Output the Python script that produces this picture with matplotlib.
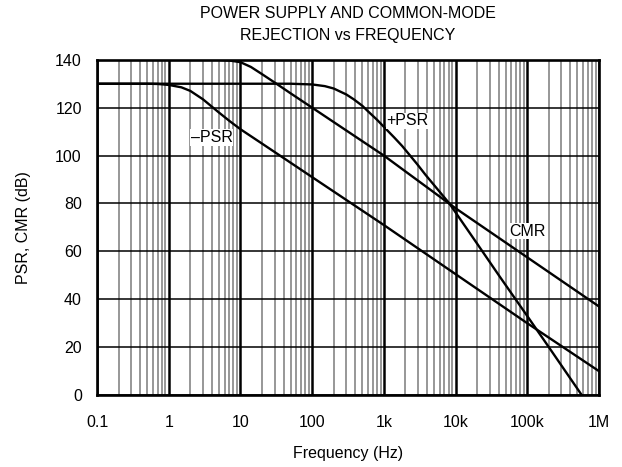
import numpy as np
import matplotlib
matplotlib.use("Agg")
import matplotlib.pyplot as plt
from matplotlib.ticker import FixedLocator, NullFormatter

plt.rcParams['font.family'] = ['Liberation Sans', 'DejaVu Sans']

# values
cmr_f = [0.1, 1, 5, 7, 10, 14, 20, 30, 50, 100, 1e3, 1e4, 1e5, 1e6]
cmr_db = [140, 140, 140, 139.7, 139, 137, 134, 130.5, 126, 120, 100, 78, 57.5, 37]

ppsr_f = [0.1, 10, 50, 100, 150, 200, 300, 380, 500, 600, 800, 1e3, 1.4e3, 1.8e3,
          2.9e3, 3.8e3, 8.2e3, 2e4, 4.1e4, 1e5, 2e5, 5.75e5]
ppsr_db = [130, 130, 130, 129.7, 129, 128, 125.5, 123.5, 120.8, 118.5, 115, 112, 107.5,
           104, 96.5, 92, 80, 63.2, 49.6, 33, 20, 0]

npsr_f = [0.1, 0.5, 0.7, 1, 1.5, 2, 3, 5, 7, 10, 20, 100, 1e3, 1e4, 1e5, 1e6]
npsr_db = [130, 130, 129.9, 129.5, 128.5, 127, 123.5, 118, 114.5, 111, 105, 91, 71, 50.5, 30, 10]

xticks = [0.1, 1, 10, 100, 1e3, 1e4, 1e5, 1e6]
xlabels = ["0.1", "1", "10", "100", "1k", "10k", "100k", "1M"]
yticks = [0, 20, 40, 60, 80, 100, 120, 140]

fig = plt.figure(figsize=(6.22, 4.67), dpi=100)
ax = fig.add_axes([0.156, 0.154, 0.807, 0.718])

# grid: gray minor, black decades
minors = [m * 10.0**e for e in range(-1, 6) for m in range(2, 10)]
for x in minors:
    ax.axvline(x, color="#7a7a7a", lw=1.1, zorder=1)
for x in xticks:
    ax.axvline(x, color="black", lw=1.8, zorder=1)
for y in yticks:
    ax.axhline(y, color="black", lw=1.1, zorder=1)

ax.plot(cmr_f, cmr_db, color="black", lw=1.7, zorder=3)
ax.plot(ppsr_f, ppsr_db, color="black", lw=1.7, zorder=3)
ax.plot(npsr_f, npsr_db, color="black", lw=1.7, zorder=3)

box = dict(facecolor="white", edgecolor="none", pad=0.5)
ax.text(4, 107.5, "\u2013PSR", ha="center", va="center", fontsize=11.5, bbox=box, zorder=4)
ax.text(2.15e3, 114.5, "+PSR", ha="center", va="center", fontsize=11.5, bbox=box, zorder=4)
ax.text(1e5, 68.5, "CMR", ha="center", va="center", fontsize=11.5, bbox=box, zorder=4)

ax.set_xscale("log")
ax.set_xlim(0.1, 1e6)
ax.set_ylim(0, 140)
ax.xaxis.set_major_locator(FixedLocator(xticks))
ax.xaxis.set_minor_locator(FixedLocator(minors))
ax.xaxis.set_minor_formatter(NullFormatter())
ax.set_xticks(xticks)
ax.set_xticklabels(xlabels)
ax.set_yticks(yticks)
ax.tick_params(axis="both", which="both", length=0, labelsize=11.5)
ax.tick_params(axis="x", pad=14.5)
ax.tick_params(axis="y", pad=11)
for s in ax.spines.values():
    s.set_linewidth(1.9)
    s.set_zorder(5)

ax.set_xlabel("Frequency (Hz)", fontsize=11.5)
ax.set_ylabel("PSR, CMR (dB)", fontsize=11.5)
ax.xaxis.set_label_coords(0.5, -0.153)
ax.yaxis.set_label_coords(-0.131, 0.5)
ax.text(0.5, 1.0 + 46 / 334, "POWER SUPPLY AND COMMON-MODE", transform=ax.transAxes,
        ha="center", va="center", fontsize=11.5)
ax.text(0.5, 1.0 + 24 / 334, "REJECTION vs FREQUENCY", transform=ax.transAxes,
        ha="center", va="center", fontsize=11.5)

fig.savefig("out.png", dpi=100)
plt.close()
